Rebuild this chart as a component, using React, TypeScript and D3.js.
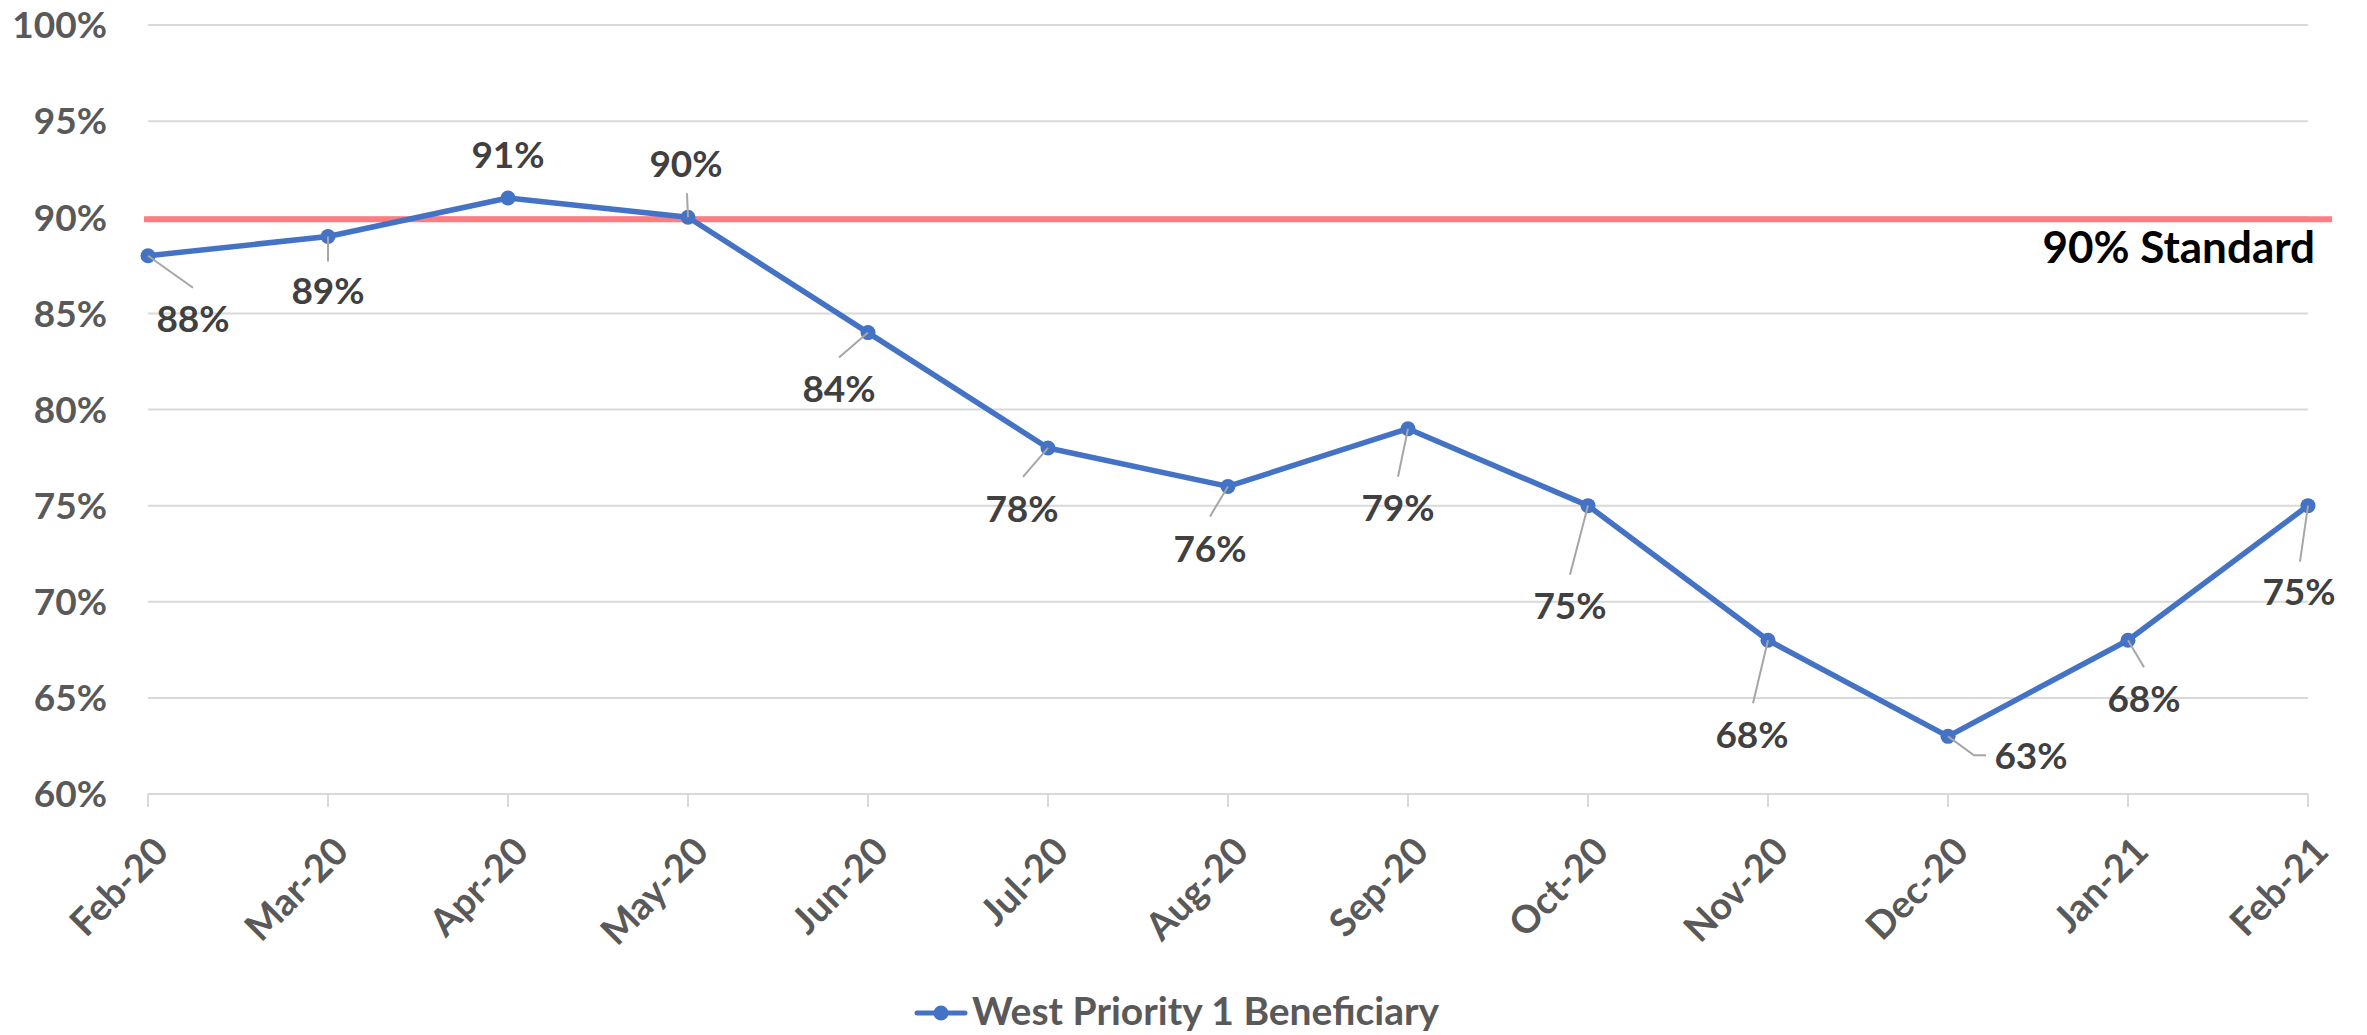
import React from "react";
import { scalePoint, scaleLinear, line, format } from "d3";

const months = [
  "Feb-20", "Mar-20", "Apr-20", "May-20", "Jun-20", "Jul-20", "Aug-20",
  "Sep-20", "Oct-20", "Nov-20", "Dec-20", "Jan-21", "Feb-21",
];
const westP1 = [0.88, 0.89, 0.91, 0.9, 0.84, 0.78, 0.76, 0.79, 0.75, 0.68, 0.63, 0.68, 0.75];
const yTicks = [0.6, 0.65, 0.7, 0.75, 0.8, 0.85, 0.9, 0.95, 1.0];
const standard = 0.9;
const seriesName = "West Priority 1 Beneficiary";
const standardLabel = "90% Standard";

// label placement (dx, dy of label centre/baseline from the point) - manually moved in the original
const labelPos: [number, number][] = [
  [45, 76], [0, 68], [0, -30], [-2, -40], [-29, 69], [-26, 74], [-18, 76],
  [-10, 92], [-18, 113], [-16, 108], [83, 33], [16, 72], [-9, 99],
];
// leader lines, list of points relative to the marker (empty = no leader)
const leaders: [number, number][][] = [
  [[45, 32]], [[0, 25]], [], [[-1, -24]], [[-29, 25]], [[-25, 29]], [[-18, 30]],
  [[-10, 48]], [[-18, 69]], [[-15, 63]], [[26, 19], [38, 19]], [[16, 27]], [[-8, 56]],
];

const W = 2367;
const H = 1035;
const left = 148;
const right = 2308;
const top = 25;
const bottom = 794;

const font = "Lato, 'Open Sans', sans-serif";
const blue = "#4472C4";
const grid = "#D9D9D9";

export default function App() {
  const x = scalePoint<string>().domain(months).range([left, right]);
  const y = scaleLinear().domain([0.6, 1]).range([bottom, top]);
  const pct = format(".0%");

  const path = line<number>()
    .x((_, i) => x(months[i]) as number)
    .y((d) => y(d))(westP1);

  return (
    <div style={{ position: "absolute", left: 0, top: 0 }}>
      <svg width={W} height={H} style={{ display: "block", background: "#fff" }}>
        {/* grid */}
        <g>
          {yTicks.map((t) => (
            <line key={t} x1={left} x2={right} y1={y(t)} y2={y(t)} stroke={grid} strokeWidth={2} />
          ))}
          {months.map((m) => (
            <line key={m} x1={x(m)} x2={x(m)} y1={bottom} y2={bottom + 13} stroke={grid} strokeWidth={2} />
          ))}
        </g>
        {/* y axis labels */}
        <g fontFamily={font} fontWeight={700} fontSize={37} fill="#595959" textAnchor="end">
          {yTicks.map((t) => (
            <text key={t} x={107} y={y(t)} dy="0.36em">
              {pct(t)}
            </text>
          ))}
        </g>
        {/* x axis labels */}
        <g fontFamily={font} fontWeight={700} fontSize={38} fill="#595959" textAnchor="end">
          {months.map((m) => (
            <text
              key={m}
              transform={`translate(${(x(m) as number) + 13},${bottom + 50}) rotate(-45)`}
              dy="0.36em"
            >
              {m}
            </text>
          ))}
        </g>
        {/* standard line */}
        <line
          x1={left - 4}
          x2={right + 24}
          y1={y(standard) + 2}
          y2={y(standard) + 2}
          stroke="#FF7C80"
          strokeWidth={6}
        />
        <text
          x={2315}
          y={263}
          textAnchor="end"
          fontFamily={font}
          fontWeight={700}
          fontSize={44}
          fill="#000"
        >
          {standardLabel}
        </text>
        {/* series */}
        <path d={path ?? ""} fill="none" stroke={blue} strokeWidth={5.5} strokeLinejoin="round" />
        {westP1.map((v, i) => (
          <circle key={i} cx={x(months[i])} cy={y(v)} r={7.5} fill={blue} />
        ))}
        {/* leaders + labels */}
        {westP1.map((v, i) => {
          const px = x(months[i]) as number;
          const py = y(v);
          const pts = leaders[i];
          return (
            <g key={i}>
              {pts.length > 0 && (
                <polyline
                  points={[[0, 0], ...pts].map(([a, b]) => `${px + a},${py + b}`).join(" ")}
                  fill="none"
                  stroke="#A6A6A6"
                  strokeWidth={2}
                />
              )}
              <text
                x={px + labelPos[i][0]}
                y={py + labelPos[i][1]}
                textAnchor="middle"
                fontFamily={font}
                fontWeight={700}
                fontSize={37}
                fill="#404040"
              >
                {pct(v)}
              </text>
            </g>
          );
        })}
        {/* legend */}
        <g>
          <line x1={917} x2={965} y1={1013} y2={1013} stroke={blue} strokeWidth={5} strokeLinecap="round" />
          <circle cx={941} cy={1013} r={7.5} fill={blue} />
          <text x={972} y={1025} fontFamily={font} fontWeight={700} fontSize={39} fill="#595959">
            {seriesName}
          </text>
        </g>
      </svg>
    </div>
  );
}
